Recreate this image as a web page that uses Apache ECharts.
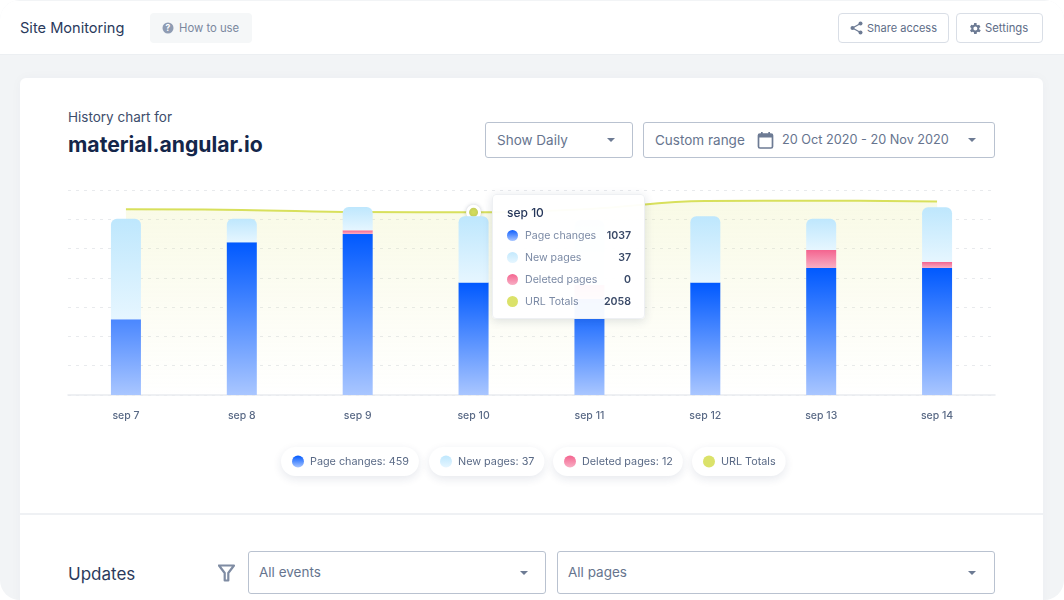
<!DOCTYPE html>
<html><head><meta charset="utf-8">
<script src="https://cdn.jsdelivr.net/npm/echarts@6/dist/echarts.min.js"></script>
<style>
html,body{margin:0;padding:0;width:1064px;height:600px;overflow:hidden;background:#fff;font-family:Inter,"Noto Sans",sans-serif;}
#page{position:absolute;left:0;top:0;width:1064px;height:600px;background:#f2f4f6;border-radius:20px;overflow:hidden;}
#bar{position:absolute;left:0;top:1px;width:1064px;height:53px;background:#fff;border-bottom:1px solid #eceff2;}
#card{position:absolute;left:20px;top:78px;width:1023px;height:530px;background:#fff;border-radius:6px;box-shadow:0 0 12px rgba(40,60,100,.03);}
#div{position:absolute;left:20px;top:513px;width:1023px;height:2px;background:#eff1f4;}
.t{position:absolute;white-space:nowrap;line-height:1;}
.box{position:absolute;box-sizing:border-box;border:1.5px solid #b9c2d0;border-radius:3px;background:#fff;}
.btn{position:absolute;box-sizing:border-box;border:1.5px solid #d9dee6;border-radius:4px;background:#fff;}
.arr{position:absolute;width:0;height:0;border-left:4px solid transparent;border-right:4px solid transparent;border-top:4px solid #6d7b94;}
svg{position:absolute;}
#chart{position:absolute;left:0;top:0;width:1064px;height:600px;}
</style></head><body>
<div id="page">
<div id="bar"></div><div id="card"></div><div id="div"></div>
<div class="t" style="left:20px;top:21px;font-size:14.6px;color:#2a3a5c;font-weight:400">Site Monitoring</div>
<div style="position:absolute;left:150px;top:13px;width:102px;height:30px;background:#f5f7f8;border-radius:4px"></div>
<svg style="left:162px;top:22px" width="12" height="12" viewBox="0 0 12 12"><circle cx="6" cy="6" r="5.5" fill="#8f9cb3"/><text x="6" y="9" font-size="8.5" font-weight="700" text-anchor="middle" fill="#fff" font-family="Inter">?</text></svg>
<div class="t" style="left:179px;top:23px;font-size:11.3px;color:#7a879e;font-weight:400">How to use</div>
<div class="btn" style="left:838px;top:13px;width:111px;height:30px"></div>
<svg style="left:850px;top:21px" width="13" height="14" viewBox="0 0 13 14"><path d="M10.5 2.5 L2.5 7 L10.5 11.5" fill="none" stroke="#6d7b94" stroke-width="1.2"/><circle cx="10.5" cy="2.5" r="2" fill="#6d7b94"/><circle cx="2.5" cy="7" r="2" fill="#6d7b94"/><circle cx="10.5" cy="11.5" r="2" fill="#6d7b94"/></svg>
<div class="t" style="left:867px;top:23px;font-size:11px;color:#5d6c87;font-weight:400">Share access</div>
<div class="btn" style="left:956px;top:13px;width:87px;height:30px"></div>
<svg style="left:967px;top:21px" width="15" height="15" viewBox="0 0 24 24"><path fill="#6d7b94" fill-rule="evenodd" d="M19.400 13a7.500 7.500 0 0 0 0-2l2.100-1.600-2-3.500-2.500 1a7.600 7.600 0 0 0-1.700-1L15.400 3.200h-4l-.400 2.700a7.600 7.600 0 0 0-1.700 1l-2.500-1-2 3.500L6.900 11a7.500 7.500 0 0 0 0 2l-2.100 1.600 2 3.500 2.500-1a7.600 7.600 0 0 0 1.700 1l.4 2.700h4l.4-2.700a7.600 7.600 0 0 0 1.700-1l2.500 1 2-3.500zM13.400 15.200a3.200 3.200 0 1 1 0-6.400 3.200 3.200 0 0 1 0 6.400z"/></svg>
<div class="t" style="left:985px;top:23px;font-size:11.3px;color:#5d6c87;font-weight:400">Settings</div>
<div class="t" style="left:68px;top:111px;font-size:13.5px;color:#3d4d6b">History chart for</div>
<div class="t" style="left:68px;top:134px;font-size:21.2px;color:#14264a;font-weight:700">material.angular.io</div>
<div class="box" style="left:485px;top:122px;width:148px;height:36px"></div>
<div class="t" style="left:497px;top:134px;font-size:13.5px;color:#66748e">Show Daily</div>
<div class="arr" style="left:607px;top:138px"></div>
<div class="box" style="left:643px;top:122px;width:352px;height:36px"></div>
<div class="t" style="left:655px;top:134px;font-size:13.5px;color:#66748e">Custom range</div>
<svg style="left:757px;top:131px" width="18" height="19" viewBox="0 0 18 19"><rect x="1.5" y="3" width="14" height="14" rx="1.5" fill="none" stroke="#6d7b94" stroke-width="1.7"/><rect x="1.5" y="3" width="14" height="3.5" fill="#6d7b94"/><rect x="4" y="1" width="1.7" height="3" fill="#6d7b94"/><rect x="11.3" y="1" width="1.7" height="3" fill="#6d7b94"/></svg>
<div class="t" style="left:782px;top:134px;font-size:12.7px;color:#66748e">20 Oct 2020 - 20 Nov 2020</div>
<div class="arr" style="left:968px;top:138px"></div>
<div class="t" style="left:68px;top:566px;font-size:17px;color:#2a3a5c;font-weight:400">Updates</div>
<svg style="left:218px;top:564px" width="17" height="18" viewBox="0 0 17 18"><path d="M1 1.5 H16 L10.3 9 V16.5 H6.7 V9 Z" fill="none" stroke="#7f8ca3" stroke-width="2.2" stroke-linejoin="round"/></svg>
<div class="box" style="left:248px;top:551px;width:298px;height:43px"></div>
<div class="t" style="left:259px;top:566px;font-size:13.5px;color:#66748e">All events</div>
<div class="arr" style="left:520px;top:571px"></div>
<div class="box" style="left:557px;top:551px;width:438px;height:43px"></div>
<div class="t" style="left:568px;top:566px;font-size:13.5px;color:#66748e">All pages</div>
<div class="arr" style="left:968px;top:571px"></div>
<div id="chart"></div>
</div>
<script>
const categories = ['sep 7','sep 8','sep 9','sep 10','sep 11','sep 12','sep 13','sep 14'];
const pageChanges = [698,1408,1484,1037,885,1037,1171,1171];
const deletedPages = [0,0,34,0,129,0,166,55];
const newPages = [927,218,215,611,600,611,289,504];
const urlTotals = [2093,2085,2062,2058,2096,2186,2190,2181];
const legendLabels = ['Page changes: 459','New pages: 37','Deleted pages: 12','URL Totals'];
const tipTitle = 'sep 10';
const tipNames = ['Page changes','New pages','Deleted pages','URL Totals'];
const tipValues = [1037,37,0,2058];
const activeIndex = 3;

const grad = (a,b)=>new echarts.graphic.LinearGradient(0,0,0,1,[{offset:0,color:a},{offset:1,color:b}]);
const chart = echarts.init(document.getElementById('chart'),null,{renderer:'canvas'});
const tipCss = [
 'linear-gradient(#0f5fff,#a9c6ff)','linear-gradient(#c4e9fd,#e6f6ff)',
 'linear-gradient(#f4648f,#f8afc5)','#dbe26a'];
function pill(name,text,left,extra){
 return Object.assign({data:[name],left:left,top:447,itemWidth:12,itemHeight:12,selectedMode:false,icon:'circle',
  padding:[8.5,10,8.5,11],backgroundColor:'#fff',borderRadius:15,
  shadowColor:'rgba(30,50,90,.11)',shadowBlur:10,shadowOffsetY:3,
  formatter:()=>text,
  textStyle:{fontFamily:'Inter',fontSize:10.8,fontWeight:400,color:'#5a6a86',lineHeight:12,padding:[0,0,0,1]}},extra||{});
}
chart.setOption({
 animation:false,
 backgroundColor:'transparent',
 grid:{left:68,right:69,top:190,height:205},
 tooltip:{trigger:'item',triggerOn:'none',alwaysShowContent:true,position:[492,194],transitionDuration:0,
  padding:0,borderWidth:1,borderColor:'#eef0f3',backgroundColor:'rgba(255,255,255,.96)',
  extraCssText:'width:153px;height:125px;box-sizing:border-box;border-radius:4px;box-shadow:0 2px 10px rgba(30,50,90,.14);',
  formatter:()=>{
   let h=`<div style="position:absolute;left:14px;top:11px;font:500 12px/14px Inter;color:#26375a">${tipTitle}</div>`;
   tipNames.forEach((n,i)=>{const y=29+i*22;
    h+=`<div style="position:absolute;left:14px;top:${y+6}px;width:11px;height:11px;border-radius:50%;background:${tipCss[i]}"></div>`+
    `<div style="position:absolute;left:32px;top:${y+5}px;font:400 10.6px/13px Inter;color:#7b8aa5">${n}</div>`+
    `<div style="position:absolute;right:13px;top:${y+5}px;font:600 10.6px/13px Inter;color:#3a4a68">${tipValues[i]}</div>`;});
   return h;}
 },
 legend:[pill('Page changes',legendLabels[0],281),pill('New pages',legendLabels[1],429),pill('Deleted pages',legendLabels[2],553),
  pill('URL Totals',legendLabels[3],692,{itemStyle:{borderWidth:0,color:'#dbe26a',shadowBlur:0}})],
 xAxis:{type:'category',data:categories,boundaryGap:true,
  axisLine:{lineStyle:{color:'#e9ecf0',width:1.5}},axisTick:{show:false},
  axisLabel:{margin:15,fontFamily:'Inter',fontSize:10.5,fontWeight:500,color:'#5a6a86'}},
 yAxis:[
  {type:'value',min:0,max:1890,interval:270,axisLine:{show:false},axisTick:{show:false},axisLabel:{show:false},
   splitLine:{lineStyle:{color:'#e8eaed',type:[3,5],width:1}}},
  {type:'value',min:0,max:2310,interval:330,axisLine:{show:false},axisTick:{show:false},axisLabel:{show:false},splitLine:{show:false}}
 ],
 series:[
  {name:'URL Totals',type:'line',yAxisIndex:1,data:urlTotals,smooth:0.4,z:1,
   symbol:(v,p)=>p.dataIndex===activeIndex?'circle':'none',symbolSize:12,showSymbol:true,
   itemStyle:{color:'#d8e05c',borderColor:'#fff',borderWidth:3,shadowColor:'rgba(30,50,90,.2)',shadowBlur:4},
   lineStyle:{color:'#d8e05c',width:2},
   areaStyle:{color:grad('rgba(219,226,106,.24)','rgba(219,226,106,0)')}},
  {name:'Page changes',type:'bar',stack:'a',barWidth:30,z:2,
   data:pageChanges.map((v,i)=>i===0?{value:v,itemStyle:{color:grad('#4a87ff','#a9c6ff')}}:v),
   itemStyle:{color:grad('#0059ff','#a9c6ff')}},
  {name:'Deleted pages',type:'bar',stack:'a',barWidth:30,z:2,data:deletedPages,itemStyle:{color:grad('#f4648f','#f8afc5')}},
  {name:'New pages',type:'bar',stack:'a',barWidth:30,z:2,data:newPages,itemStyle:{color:grad('#bee7fd','#e6f6ff'),borderRadius:[6,6,0,0]}}
 ]
});
chart.dispatchAction({type:'showTip',seriesIndex:0,dataIndex:activeIndex});
</script>
</body></html>
